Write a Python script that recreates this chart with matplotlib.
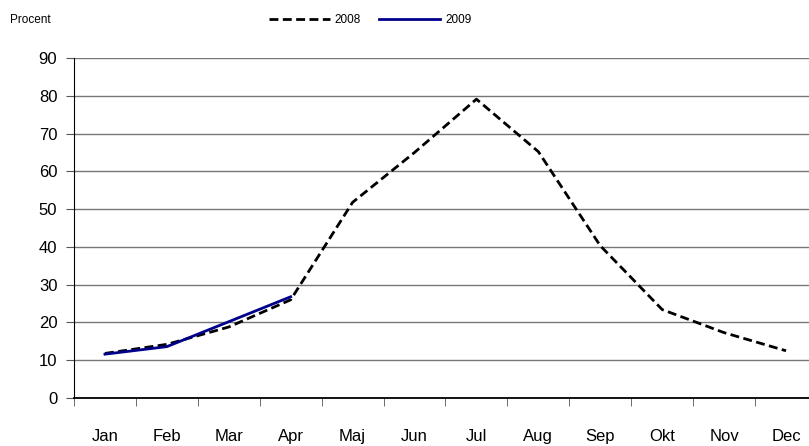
import matplotlib.pyplot as plt
import numpy as np

plt.rcParams['font.family'] = ['Liberation Sans', 'DejaVu Sans']

months = ["Jan", "Feb", "Mar", "Apr", "Maj", "Jun", "Jul", "Aug", "Sep", "Okt", "Nov", "Dec"]
values_2008 = [11.8, 14.2, 18.8, 26.0, 51.8, 65.0, 79.1, 65.2, 40.3, 23.4, 17.3, 12.5]
values_2009 = [11.6, 13.6, 20.2, 26.8]
yticks = list(range(0, 100, 10))

fig = plt.figure(figsize=(8.09, 4.46), dpi=100)
# axes runs a bit past the right edge, like the cropped original
ax = fig.add_axes([74 / 809, 48 / 446, 743 / 809, 340 / 446])

x = np.arange(len(months))
ax.plot(x, values_2008, color="black", linestyle=(0, (3.2, 1.6)), linewidth=2, label="2008")
ax.plot(x[:len(values_2009)], values_2009, color="#00008B", linewidth=2, label="2009")

ax.set_xlim(-0.5, len(months) - 0.5)
ax.set_ylim(0, 90)
ax.set_yticks(yticks)
ax.set_yticklabels([str(v) for v in yticks], fontsize=12)
ax.set_xticks(x)
ax.set_xticklabels(months, fontsize=12)
ax.set_xticks(np.arange(len(months) + 1) - 0.5, minor=True)
ax.tick_params(axis="x", which="major", length=0, pad=22)
ax.tick_params(axis="x", which="minor", length=6, color="#555555", direction="out")
ax.tick_params(axis="y", length=6, color="#555555", direction="out", pad=6)

ax.grid(axis="y", color="#777777", linewidth=1)
ax.set_axisbelow(True)
for side in ["top", "right"]:
    ax.spines[side].set_visible(False)
ax.spines["left"].set_color("black")
ax.spines["bottom"].set_color("black")
ax.spines["bottom"].set_linewidth(1.3)

fig.text(10 / 809, 1 - 20 / 446, "Procent", fontsize=8.5, va="center", ha="left")
fig.legend(loc="center", bbox_to_anchor=(370 / 809, 1 - 20 / 446), ncol=2, frameon=False,
           fontsize=8.5, handlelength=5.2, columnspacing=1.5, handletextpad=0.4)

fig.savefig("out.png", dpi=100)
